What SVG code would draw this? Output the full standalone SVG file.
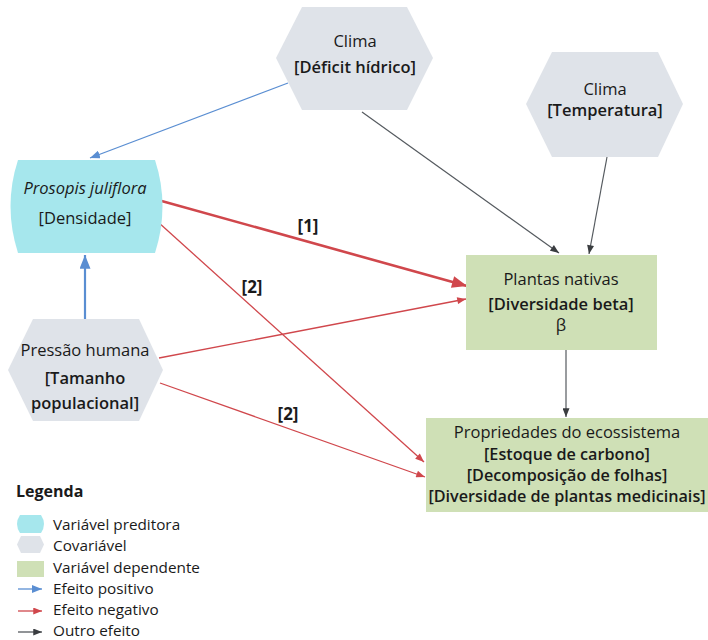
<svg xmlns="http://www.w3.org/2000/svg" width="708" height="640" viewBox="0 0 708 640">
  <style>
    text { font-family: "Open Sans", "Noto Sans", "DejaVu Sans", sans-serif; fill: #1a1a1a; }
    .t { font-size: 16.5px; text-anchor: middle; }
    .b { font-size: 16.5px; font-weight: 600; text-anchor: middle; }
    .bs { font-size: 16.2px; font-weight: 600; text-anchor: middle; }
    .lab { font-size: 17px; font-weight: 700; text-anchor: middle; }
    .lg { font-size: 15.3px; }
    .cov { fill: #dfe3e9; }
    .pred { fill: #a6e7ed; }
    .dep { fill: #cfe0b6; }
    .pos { stroke: #5a8ed2; fill: none; }
    .neg { stroke: #d0474c; fill: none; }
    .oth { stroke: #555a5f; fill: none; }
  </style>
  <defs>
    <marker id="mPos" viewBox="0 0 10 8" refX="10" refY="4" markerWidth="10" markerHeight="8" markerUnits="userSpaceOnUse" orient="auto">
      <path d="M0,0 L10,4 L0,8 Z" fill="#5a8ed2"/>
    </marker>
    <marker id="mPosB" viewBox="0 0 10 8" refX="10" refY="4" markerWidth="14" markerHeight="11" markerUnits="userSpaceOnUse" orient="auto">
      <path d="M0,0 L10,4 L0,8 Z" fill="#5a8ed2"/>
    </marker>
    <marker id="mNeg" viewBox="0 0 10 8" refX="10" refY="4" markerWidth="10" markerHeight="7" markerUnits="userSpaceOnUse" orient="auto">
      <path d="M0,0 L10,4 L0,8 Z" fill="#d0474c"/>
    </marker>
    <marker id="mNegB" viewBox="0 0 10 8" refX="10" refY="4" markerWidth="16" markerHeight="12" markerUnits="userSpaceOnUse" orient="auto">
      <path d="M0,0 L10,4 L0,8 Z" fill="#d0474c"/>
    </marker>
    <marker id="mOth" viewBox="0 0 10 8" refX="10" refY="4" markerWidth="10" markerHeight="7" markerUnits="userSpaceOnUse" orient="auto">
      <path d="M0,0 L10,4 L0,8 Z" fill="#3a3d40"/>
    </marker>
  </defs>

  <!-- connectors -->
  <g id="connectors">
    <line class="pos" x1="288" y1="83" x2="90" y2="158" stroke-width="1.3" marker-end="url(#mPos)"/>
    <line class="pos" x1="85" y1="319" x2="85" y2="255" stroke-width="2.2" marker-end="url(#mPosB)"/>
    <line class="oth" x1="362" y1="112" x2="559" y2="253" stroke-width="1.2" marker-end="url(#mOth)"/>
    <line class="oth" x1="607" y1="157" x2="589" y2="254" stroke-width="1.2" marker-end="url(#mOth)"/>
    <line class="oth" x1="566" y1="350" x2="566" y2="417" stroke-width="1.2" marker-end="url(#mOth)"/>
    <line class="neg" x1="158" y1="200" x2="467" y2="286" stroke-width="2.6" marker-end="url(#mNegB)"/>
    <line class="neg" x1="158" y1="222" x2="424" y2="462" stroke-width="1.3" marker-end="url(#mNeg)"/>
    <line class="neg" x1="159" y1="358" x2="466" y2="299" stroke-width="1.3" marker-end="url(#mNeg)"/>
    <line class="neg" x1="160" y1="383" x2="425" y2="477" stroke-width="1.3" marker-end="url(#mNeg)"/>
    <text class="lab" x="308" y="232">[1]</text>
    <text class="lab" x="252" y="293">[2]</text>
    <text class="lab" x="288" y="420">[2]</text>
  </g>

  <!-- covariates -->
  <g id="clima-deficit">
    <polygon class="cov" points="302,7 407,7 433,58 407,110 302,110 276,58"/>
    <text class="t" x="355" y="47">Clima</text>
    <text class="b" x="355" y="73">[Déficit hídrico]</text>
  </g>
  <g id="clima-temperatura">
    <polygon class="cov" points="552,52 658,52 683,104 658,157 552,157 526,104"/>
    <text class="t" x="605" y="95">Clima</text>
    <text class="b" x="605" y="116">[Temperatura]</text>
  </g>
  <g id="pressao-humana">
    <polygon class="cov" points="33,319 139,319 163,370 139,421 33,421 8,370"/>
    <text class="t" x="85" y="356">Pressão humana</text>
    <text class="b" x="85" y="384">[Tamanho</text>
    <text class="b" x="85" y="409">populacional]</text>
  </g>

  <!-- predictor -->
  <g id="prosopis">
    <path class="pred" d="M18,160 L155,160 Q170,206 155,253 L18,253 Q3,206 18,160 Z"/>
    <text class="t" x="85" y="194" font-style="italic">Prosopis juliflora</text>
    <text class="t" x="85" y="224">[Densidade]</text>
  </g>

  <!-- dependents -->
  <g id="plantas-nativas">
    <rect class="dep" x="466" y="255" width="191" height="95"/>
    <text class="t" x="561" y="285">Plantas nativas</text>
    <text class="b" x="561" y="310">[Diversidade beta]</text>
    <text class="t" x="561" y="331">β</text>
  </g>
  <g id="propriedades">
    <rect class="dep" x="426" y="418" width="282" height="94"/>
    <text class="t" x="567" y="438">Propriedades do ecossistema</text>
    <text class="bs" x="567" y="460">[Estoque de carbono]</text>
    <text class="bs" x="567" y="481">[Decomposição de folhas]</text>
    <text class="bs" x="567" y="502">[Diversidade de plantas medicinais]</text>
  </g>

  <!-- legend -->
  <g id="legenda">
    <text x="16" y="497" font-size="16" font-weight="700">Legenda</text>
    <path class="pred" d="M20,515 L41,515 Q47,524 41,533 L20,533 Q14,524 20,515 Z"/>
    <text class="lg" x="53" y="530">Variável preditora</text>
    <polygon class="cov" points="21,536 40,536 44,544.5 40,553 21,553 17,544.5"/>
    <text class="lg" x="53" y="551">Covariável</text>
    <rect class="dep" x="17" y="561" width="27" height="16"/>
    <text class="lg" x="53" y="573">Variável dependente</text>
    <line class="pos" x1="18" y1="589" x2="42" y2="589" stroke-width="1.3" marker-end="url(#mPos)"/>
    <text class="lg" x="53" y="594">Efeito positivo</text>
    <line class="neg" x1="18" y1="611" x2="42" y2="611" stroke-width="1.3" marker-end="url(#mNeg)"/>
    <text class="lg" x="53" y="615">Efeito negativo</text>
    <line class="oth" x1="18" y1="632" x2="42" y2="632" stroke-width="1.3" marker-end="url(#mOth)"/>
    <text class="lg" x="53" y="636">Outro efeito</text>
  </g>
</svg>
